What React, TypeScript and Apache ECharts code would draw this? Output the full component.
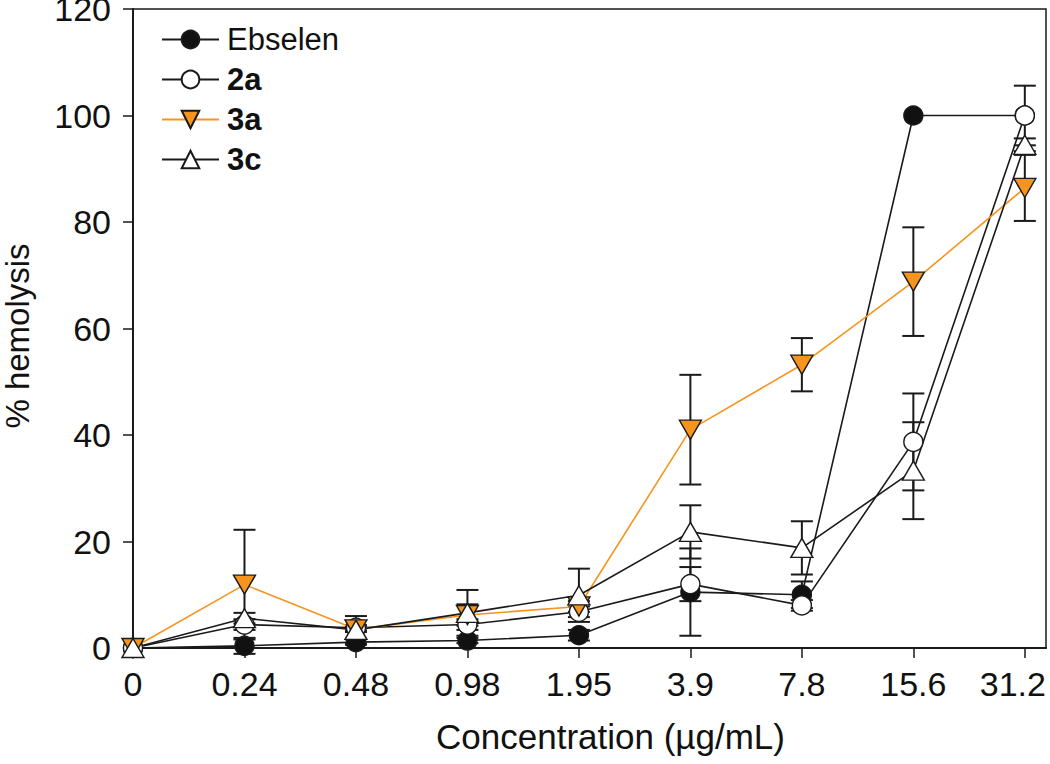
import React, { useEffect, useRef } from "react";
import * as echarts from "echarts";

const categories = ["0", "0.24", "0.48", "0.98", "1.95", "3.9", "7.8", "15.6", "31.2"];
const yTicks = [0, 20, 40, 60, 80, 100, 120];

const ebselen = [0, 0.4, 1.1, 1.4, 2.4, 10.5, 10.0, 100, 100];
const ebselenErr = [0, 1.5, 0.5, 0.5, 1, 8.2, 2.5, 0, 0];
const s2a = [0, 4.4, 3.8, 4.4, 6.8, 12.0, 8.0, 38.7, 100];
const s2aErr = [0, 1, 0.5, 1, 1, 3.2, 1, 9.1, 5.6];
const s3a = [0, 11.9, 3.5, 6.2, 7.8, 41.0, 53.2, 68.8, 86.4];
const s3aErr = [0, 10.3, 0.5, 2, 1, 10.3, 5, 10.2, 6.2];
const s3c = [0, 5.6, 3.4, 6.6, 9.9, 21.8, 18.8, 33.3, 94.5];
const s3cErr = [0, 1, 2.6, 4.3, 5, 5, 5, 9.1, 1.2];

const FONT = "'Liberation Sans', Arial, sans-serif";
const ORANGE = "#F7941D";
const DARK = "#1a1a1a";

export default function App() {
  const ref = useRef<HTMLDivElement>(null);
  useEffect(() => {
    if (!ref.current) return;
    const chart = echarts.init(ref.current, null, { renderer: "svg" });
    const idx = categories.map((_, i) => i);
    const lastIdx = categories.length - 1;

    const lineSeries = (name: string, vals: number[], color: string, symbol: string, symbolSize: any, fill: string) => ({
      name,
      type: "line",
      data: vals.map((v, i) => [i, v]),
      symbol,
      symbolSize,
      clip: false,
      z: 3,
      lineStyle: { color, width: 1.6 },
      itemStyle: { color: fill, borderColor: DARK, borderWidth: 1.4 },
      emphasis: { disabled: true },
    });

    const errSeries = (name: string, vals: number[], errs: number[]) => ({
      name: name + "-err",
      type: "custom",
      z: 1,
      clip: false,
      silent: true,
      data: vals.map((v, i) => [i, v, errs[i]]),
      renderItem: (params: any, api: any) => {
        const x = api.value(0);
        const y = api.value(1);
        const e = api.value(2);
        if (!e) return null;
        const top = api.coord([x, y + e]);
        const bot = api.coord([x, y - e]);
        const hw = 11;
        const st = { stroke: DARK, lineWidth: 2 };
        return {
          type: "group",
          children: [
            { type: "line", shape: { x1: top[0], y1: top[1], x2: bot[0], y2: bot[1] }, style: st },
            { type: "line", shape: { x1: top[0] - hw, y1: top[1], x2: top[0] + hw, y2: top[1] }, style: st },
            { type: "line", shape: { x1: bot[0] - hw, y1: bot[1], x2: bot[0] + hw, y2: bot[1] }, style: st },
          ],
        };
      },
    });

    const downTri = "path://M0,0 L10,0 L5,8.7 Z";
    const upTri = "path://M5,0 L10,8.7 L0,8.7 Z";

    chart.setOption({
      animation: false,
      backgroundColor: "#fff",
      grid: {
        left: 133,
        top: 9,
        right: 4,
        bottom: 116,
        containLabel: false,
        outerBoundsMode: "none",
        show: true,
        borderColor: DARK,
        borderWidth: 1.5,
        backgroundColor: "transparent",
      },
      legend: {
        orient: "vertical",
        left: 156,
        top: 19,
        itemWidth: 57,
        itemHeight: 22,
        itemGap: 9,
        selectedMode: false,
        data: ["Ebselen", "2a", "3a", "3c"],
        formatter: (name: string) => (name === "Ebselen" ? "{n|" + name + "}" : "{b|" + name + "}"),
        textStyle: {
          fontFamily: FONT,
          fontSize: 31,
          color: "#111",
          rich: {
            n: { fontFamily: FONT, fontSize: 31, color: "#111", padding: [0, 0, 0, 3], lineHeight: 32 },
            b: { fontFamily: FONT, fontSize: 31, fontWeight: "bold", color: "#111", padding: [0, 0, 0, 3], lineHeight: 32 },
          },
        },
      },
      xAxis: {
        type: "value",
        min: 0,
        max: 8.19,
        interval: 1,
        name: "Concentration (\u00b5g/mL)",
        nameLocation: "middle",
        nameGap: 71,
        nameTextStyle: { fontFamily: FONT, fontSize: 35, color: "#111", padding: [0, 0, 0, 42] },
        splitLine: { show: false },
        axisLine: { show: true, onZero: false, lineStyle: { color: DARK, width: 2 } },
        axisTick: { show: true, inside: false, length: 10, lineStyle: { color: DARK, width: 1.5 }, customValues: idx },
        axisLabel: {
          customValues: idx,
          margin: 19,
          fontFamily: FONT,
          fontSize: 34,
          color: "#111",
          formatter: (v: number) => {
            const i = Math.round(v);
            const t = categories[i] ?? "";
            return i === lastIdx ? "{last|" + t + "}" : t;
          },
          rich: {
            last: { fontFamily: FONT, fontSize: 34, color: "#111", padding: [0, 24, 0, 0] },
          },
        },
      },
      yAxis: {
        type: "value",
        min: 0,
        max: 120,
        interval: 20,
        name: "% hemolysis",
        nameLocation: "middle",
        nameRotate: 90,
        nameGap: 99,
        nameTextStyle: { fontFamily: FONT, fontSize: 33, color: "#111", padding: [0, 15, 0, 0] },
        splitLine: { show: false },
        axisLine: { show: true, lineStyle: { color: DARK, width: 2 } },
        axisTick: { show: true, inside: false, length: 10, lineStyle: { color: DARK, width: 1.5 }, customValues: yTicks },
        axisLabel: {
          customValues: yTicks,
          margin: 22,
          fontFamily: FONT,
          fontSize: 34,
          color: "#111",
        },
      },
      series: [
        errSeries("Ebselen", ebselen, ebselenErr),
        errSeries("2a", s2a, s2aErr),
        errSeries("3a", s3a, s3aErr),
        errSeries("3c", s3c, s3cErr),
        lineSeries("Ebselen", ebselen, DARK, "circle", 19, "#111"),
        lineSeries("2a", s2a, DARK, "circle", 19, "#fff"),
        lineSeries("3a", s3a, ORANGE, downTri, [22, 19], ORANGE),
        lineSeries("3c", s3c, DARK, upTri, [22, 19], "#fff"),
      ],
    });
    return () => chart.dispose();
  }, []);
  return <div ref={ref} style={{ position: "fixed", left: 0, top: 0, width: 1050, height: 764 }} />;
}
